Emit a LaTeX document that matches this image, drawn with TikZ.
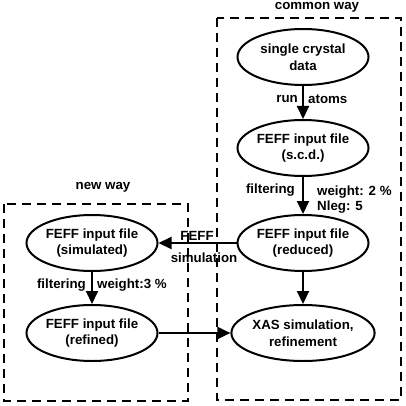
\documentclass[tikz,border=0pt]{standalone}
\usepackage{fontspec}
\setmainfont{Liberation Sans}
\usetikzlibrary{arrows.meta,shapes.geometric}
\begin{document}
\begin{tikzpicture}[x=1pt,y=-1pt,
  every node/.style={font=\bfseries\fontsize{13.3}{16.5}\selectfont, inner sep=0pt},
  proc/.style={draw, line width=2pt, ellipse, minimum width=131pt, minimum height=56pt, align=center},
  arr/.style={line width=2pt, -{Triangle[length=13pt,width=12pt]}},
  group/.style={draw, line width=2pt, dash pattern=on 9pt off 6pt}]
\useasboundingbox (0,0) rectangle (406,406);
% groups
\draw[group] (217,18) rectangle (401,400);
\draw[group] (4,204) rectangle (188,401);
\node (tcommon) at (317,7.5) {common way};
\node (tnew) at (103,187) {new way};
% nodes
\node[proc] (scd) at (303,57) {single crystal\\data};
\node[proc] (fscd) at (303,148) {FEFF input file\\(s.c.d.)};
\node[proc] (fred) at (303,243) {FEFF input file\\(reduced)};
\node[proc] (xas) at (303,333) {XAS simulation,\\refinement};
\node[proc] (fsim) at (92,243) {FEFF input file\\(simulated)};
\node[proc] (fref) at (92,333) {FEFF input file\\(refined)};
% connectors
\draw[arr] (scd) -- (fscd);
\draw[arr] (fscd) -- (fred);
\draw[arr] (fred) -- (xas);
\draw[arr] (fred) -- (fsim);
\draw[arr] (fsim) -- (fref);
\draw[arr] (fref) -- (xas);
% labels
\node[anchor=east] (lrun) at (298,99) {run};
\node[anchor=west] (latoms) at (308,99) {atoms};
\node[anchor=east] (lfilt1) at (295,190) {filtering};
\node[anchor=west, align=left, font=\bfseries\fontsize{13.3}{15}\selectfont] (lw2) at (317,199.5) {weight: 2 \%\\Nleg: 5};
\node (lfeff) at (197,236) {FEFF};
\node (lsim) at (204,258) {simulation};
\node[anchor=east] (lfilt2) at (86,285) {filtering};
\node[anchor=west] (lw3) at (97,285) {weight:3 \%};
\end{tikzpicture}
\end{document}
